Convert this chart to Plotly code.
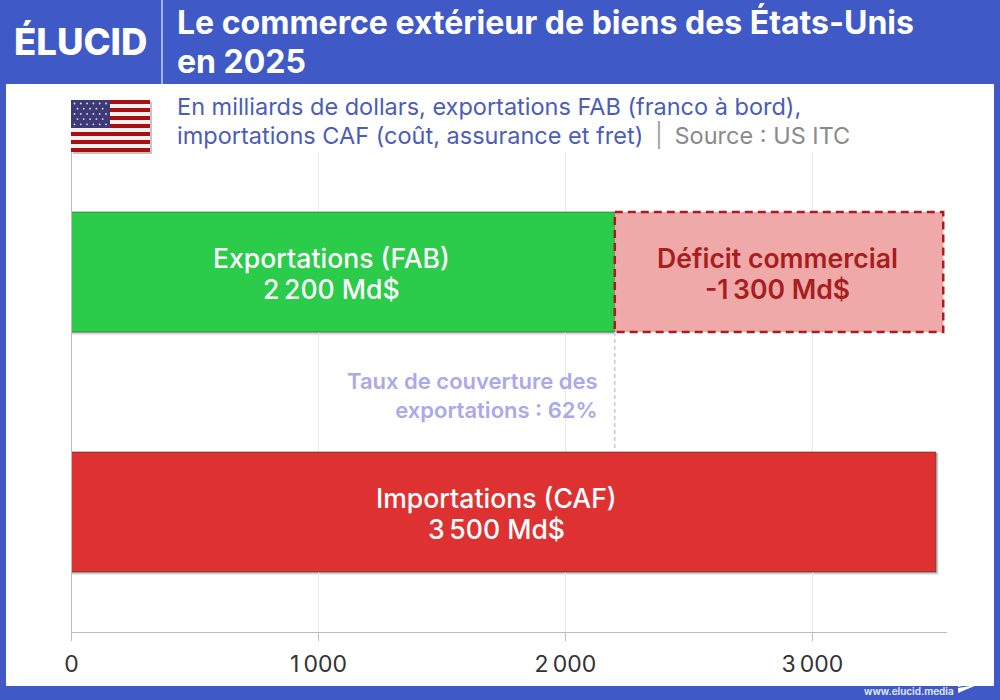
import plotly.graph_objects as go

# ---- data ----
categories = ["Exportations", "Importations"]
exports_value = 2200
imports_value = 3500
deficit_drawn = 1330          # visual width of the dashed box
tick_vals = [0, 1000, 2000, 3000]
tick_text = ["0", "1\u2009000", "2\u2009000", "3\u2009000"]
label_exports = ["Exportations (FAB)", "2\u2009200 Md$"]
label_deficit = ["Déficit commercial", "-1\u2009300 Md$"]
label_imports = ["Importations (CAF)", "3\u2009500 Md$"]
label_cover = "Taux de couverture des<br>exportations : 62%"
# horizontal centres of the bar labels, in axis units
label_x_exports = 1052
label_x_deficit = 2857
label_x_imports = 1720

BLUE = "#3F5AC6"
GREEN = "#2ACC4A"
RED = "#DE3232"
PINK = "#F0A9A9"
DARKRED = "#A81E1E"
LILAC = "#A9A9EC"
FONT = "Inter"
W, H = 1000, 700

def px(x): return x / W
def py(y): return 1 - y / H

fig = go.Figure()
bar_common = dict(orientation="h", width=0.5, cliponaxis=False, hoverinfo="skip")
fig.add_bar(y=[categories[0]], x=[exports_value], marker=dict(color=GREEN, line=dict(color="rgba(50,70,50,.55)", width=1)), **bar_common)
fig.add_bar(y=[categories[0]], x=[deficit_drawn], base=[exports_value], marker=dict(color=PINK, line=dict(width=0)), **bar_common)
fig.add_bar(y=[categories[1]], x=[imports_value], marker=dict(color=RED, line=dict(color="rgba(70,40,40,.6)", width=1)), **bar_common)

def bar_label(x, cat_index, lines, color, weight):
    for line, shift in zip(lines, (14, -17)):
        fig.add_annotation(x=x, y=cat_index, xref="x", yref="y", text=line, showarrow=False, yshift=shift,
                           xanchor="center", yanchor="middle",
                           font=dict(size=26.6, color=color, family=FONT, weight=weight))

bar_label(label_x_exports, 0, label_exports, "white", 500)
bar_label(label_x_deficit, 0, label_deficit, DARKRED, 600)
bar_label(label_x_imports, 1, label_imports, "white", 500)

shapes = []
def rect(x0, y0, x1, y1, color, layer="below"):
    shapes.append(dict(type="rect", xref="paper", yref="paper", x0=px(x0), x1=px(x1), y0=py(y0), y1=py(y1),
                       fillcolor=color, line=dict(width=0), layer=layer))

# page panel
rect(6, 84, 994, 686, "white")
shapes.append(dict(type="line", xref="paper", yref="paper", x0=px(162), x1=px(162), y0=py(0), y1=py(84),
                   line=dict(color="#C9D1F0", width=1.5), layer="below"))
# bar shadows
for a in (0.10, 0.22):
    d = 3 if a == 0.10 else 1.5
    rect(72, 213, 614 + d / 2, 332 + d, f"rgba(40,40,40,{a})")
    rect(72, 453, 937 + d / 2, 572 + d, f"rgba(40,40,40,{a})")
# deficit dashed outline, in axis coordinates
shapes.append(dict(type="rect", xref="x", yref="y", x0=exports_value, x1=exports_value + deficit_drawn,
                   y0=-0.25, y1=0.25, line=dict(color=DARKRED, width=2.5, dash="8px,5px"), layer="above"))
# coverage dashed guide
shapes.append(dict(type="line", xref="x", yref="y", x0=exports_value, x1=exports_value, y0=0.25, y1=0.75,
                   line=dict(color="#C6C6EE", width=1.5, dash="4px,3px"), layer="above"))
# flag
rect(73, 102, 152, 154, "rgba(60,60,60,.3)")
rect(71, 100, 150, 152, "#F4F0F0")
sh = 52 / 13
for i in range(0, 13, 2):
    rect(71, 100 + i * sh, 150, 100 + (i + 1) * sh, "#A80F12")
rect(71, 100, 110, 100 + 7 * sh, "#3E3A78")
for r in range(5):
    for c in range(6 - (r % 2)):
        cx = 74.5 + (r % 2) * 3 + c * 6.3
        cy = 103.5 + r * 5.2
        shapes.append(dict(type="circle", xref="paper", yref="paper", x0=px(cx - .9), x1=px(cx + .9),
                           y0=py(cy + .9), y1=py(cy - .9), fillcolor="#E4E4F4", line=dict(width=0), layer="below"))
# footer mark
shapes.append(dict(type="path", xref="paper", yref="paper",
                   path=f"M {px(958)} {py(684)} L {px(977)} {py(678)} L {px(977)} {py(683)} L {px(958)} {py(687)} Z M {px(958)} {py(688)} L {px(977)} {py(685)} L {px(958)} {py(693)} Z",
                   fillcolor="white", line=dict(width=0), layer="above"))

def note(x, y, text, size, color, weight=400, anchor="left", yanchor="top", family=FONT):
    fig.add_annotation(x=px(x), y=py(y), xref="paper", yref="paper", text=text, showarrow=False,
                       xanchor=anchor, yanchor=yanchor, align=anchor,
                       font=dict(size=size, color=color, family=family, weight=weight),
                       borderpad=0, borderwidth=0)

note(177, 22, "Le commerce extérieur de biens des États-Unis", 32, "white", 700, yanchor="middle")
note(177, 62, "en 2025", 32, "white", 700, yanchor="middle")
note(14, 42, "ÉLUCID", 36.5, "white", 800, yanchor="middle")
note(177, 106, "En milliards de dollars, exportations FAB (franco à bord),", 23.5, "#4A5DB8", yanchor="middle")
note(177, 135, "importations CAF (coût, assurance et fret)\u2002<span style='color:#A0A0A0'>|</span>\u2002<span style='color:#8A8A8A'>Source : US ITC</span>", 23.5, "#4A5DB8", yanchor="middle")
note(598, 395, label_cover, 22, LILAC, 600, anchor="right", yanchor="middle")
note(864, 691, "www.elucid.media", 10, "#E8ECFA", 600, yanchor="middle")

fig.update_layout(
    width=W, height=H, margin=dict(l=0, r=0, t=0, b=0), autosize=False,
    paper_bgcolor=BLUE, plot_bgcolor="rgba(0,0,0,0)", barmode="overlay", showlegend=False, shapes=shapes,
    font=dict(family=FONT),
    xaxis=dict(domain=[px(71.5), px(947)], range=[0, (947 - 71.5) / 0.24695], tickvals=tick_vals, ticktext=tick_text,
               showgrid=True, gridcolor="#EAEAEA", gridwidth=1, zeroline=False, showline=True, linecolor="#BDBDBD", linewidth=1,
               ticks="outside", ticklen=8, tickcolor="#BDBDBD", ticklabelstandoff=3,
               tickfont=dict(size=23, color="#333333", family=FONT), automargin=False),
    yaxis=dict(domain=[py(632), py(152)], categoryorder="array", categoryarray=categories, range=[1.5, -0.5],
               showticklabels=False, showgrid=False, zeroline=False, showline=True, linecolor="#BDBDBD", linewidth=1,
               ticks="", automargin=False),
)

fig.write_html("out.html", config=dict(displayModeBar=False), post_script="document.body.style.margin='0';")
